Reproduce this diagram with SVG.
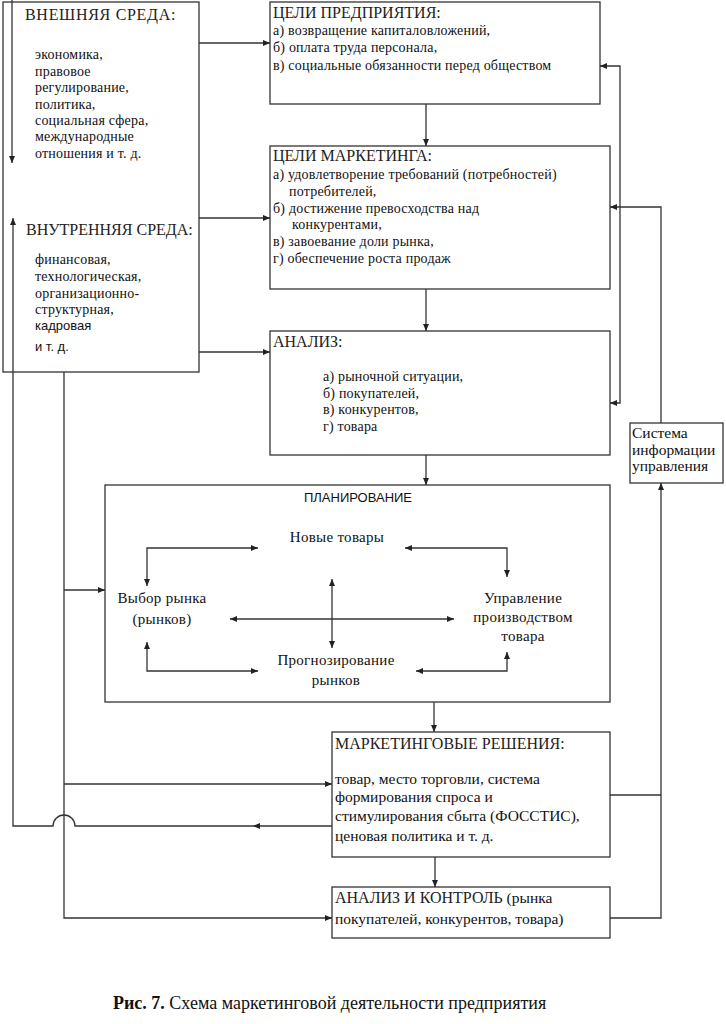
<svg xmlns="http://www.w3.org/2000/svg" width="726" height="1024" viewBox="0 0 726 1024">
<style>
.box{fill:#fff;stroke:#333;stroke-width:1.3}
.ln{fill:none;stroke:#333;stroke-width:1.3}
.h{font-family:"Liberation Serif",serif;font-size:16px;fill:#222}
.t{font-family:"Liberation Serif",serif;font-size:14px;letter-spacing:0.2px;fill:#111}
.b{font-family:"Liberation Serif",serif;font-size:15.5px;fill:#111}
.p{font-family:"Liberation Serif",serif;font-size:15px;letter-spacing:0.3px;fill:#111}
.s{font-family:"Liberation Sans",Arial,sans-serif;font-size:13px;fill:#111}
.c{text-anchor:middle}
</style>
<defs>
<marker id="ar" markerUnits="userSpaceOnUse" markerWidth="7" markerHeight="6" refX="7" refY="3" orient="auto-start-reverse">
<path d="M0,0 L7,3 L0,6 z" fill="#222"/>
</marker>
</defs>
<rect width="726" height="1024" fill="#fff"/>

<g id="environment">
<rect class="box" x="3" y="2" width="196" height="370"/>
<text class="h" x="25" y="20" letter-spacing="0.7">ВНЕШНЯЯ СРЕДА:</text>
<text class="t" x="35" y="59">экономика,</text>
<text class="t" x="35" y="76">правовое</text>
<text class="t" x="35" y="92">регулирование,</text>
<text class="t" x="35" y="109">политика,</text>
<text class="t" x="35" y="125">социальная сфера,</text>
<text class="t" x="35" y="141">международные</text>
<text class="t" x="35" y="158">отношения и  т. д.</text>
<text class="h" x="26" y="235">ВНУТРЕННЯЯ СРЕДА:</text>
<text class="t" x="35" y="264">финансовая,</text>
<text class="t" x="35" y="281">технологическая,</text>
<text class="t" x="35" y="298">организационно-</text>
<text class="t" x="35" y="314">структурная,</text>
<text class="s" x="35" y="330">кадровая</text>
<text class="s" x="35" y="351">и т. д.</text>
</g>

<g id="enterprise-goals">
<rect class="box" x="270" y="2" width="330" height="102"/>
<text class="h" x="273" y="18">ЦЕЛИ ПРЕДПРИЯТИЯ:</text>
<text class="t" x="273" y="35">а) возвращение капиталовложений,</text>
<text class="t" x="273" y="52">б) оплата труда персонала,</text>
<text class="t" x="273" y="70">в) социальные обязанности перед обществом</text>
</g>

<g id="marketing-goals">
<rect class="box" x="270" y="146" width="340" height="143"/>
<text class="h" x="273" y="161">ЦЕЛИ МАРКЕТИНГА:</text>
<text class="t" x="273" y="179">а) удовлетворение требований (потребностей)</text>
<text class="t" x="289" y="196">потребителей,</text>
<text class="t" x="273" y="213">б)  достижение превосходства над</text>
<text class="t" x="292" y="229">конкурентами,</text>
<text class="t" x="273" y="246">в) завоевание доли рынка,</text>
<text class="t" x="273" y="263">г)  обеспечение роста продаж</text>
</g>

<g id="analysis">
<rect class="box" x="270" y="331" width="340" height="124"/>
<text class="h" x="273" y="347">АНАЛИЗ:</text>
<text class="t" x="323" y="381">а) рыночной ситуации,</text>
<text class="t" x="323" y="398">б) покупателей,</text>
<text class="t" x="323" y="414">в) конкурентов,</text>
<text class="t" x="323" y="431">г) товара</text>
</g>

<g id="mis">
<rect class="box" x="630" y="423" width="93" height="60"/>
<text class="b" x="632" y="438">Система</text>
<text class="b" x="632" y="455">информации</text>
<text class="b" x="632" y="471">управления</text>
</g>

<g id="planning">
<rect class="box" x="105" y="485" width="505" height="217"/>
<text class="s c" x="358" y="502">ПЛАНИРОВАНИЕ</text>
</g>
<g id="new-products"><text class="p c" x="337" y="542">Новые товары</text></g>
<g id="market-choice">
<text class="p c" x="162" y="603">Выбор рынка</text>
<text class="p c" x="162" y="624">(рынков)</text>
</g>
<g id="production-management">
<text class="p c" x="523" y="603">Управление</text>
<text class="p c" x="523" y="622">производством</text>
<text class="p c" x="523" y="641">товара</text>
</g>
<g id="forecasting">
<text class="p c" x="336" y="665">Прогнозирование</text>
<text class="p c" x="336" y="685">рынков</text>
</g>

<g id="decisions">
<rect class="box" x="332" y="732" width="278" height="125"/>
<text class="h" x="335" y="749">МАРКЕТИНГОВЫЕ РЕШЕНИЯ:</text>
<text class="b" x="335" y="784">товар, место торговли, система</text>
<text class="b" x="335" y="802">формирования спроса и</text>
<text class="b" x="335" y="821">стимулирования сбыта (ФОССТИС),</text>
<text class="b" x="335" y="841">ценовая политика и т. д.</text>
</g>

<g id="control">
<rect class="box" x="332" y="887" width="278" height="51"/>
<text class="b" x="335" y="903"><tspan class="h">АНАЛИЗ И КОНТРОЛЬ</tspan> (рынка</text>
<text class="b" x="335" y="924">покупателей, конкурентов, товара)</text>
</g>

<g id="connectors">
<path class="ln" d="M12,0 V163" marker-end="url(#ar)"/>
<path class="ln" d="M199,43 H270" marker-end="url(#ar)"/>
<path class="ln" d="M199,218 H270" marker-end="url(#ar)"/>
<path class="ln" d="M199,352 H270" marker-end="url(#ar)"/>
<path class="ln" d="M426,104 V146" marker-end="url(#ar)"/>
<path class="ln" d="M426,289 V331" marker-end="url(#ar)"/>
<path class="ln" d="M426,455 V485" marker-end="url(#ar)"/>
<path class="ln" d="M434,702 V732" marker-end="url(#ar)"/>
<path class="ln" d="M435,857 V887" marker-end="url(#ar)"/>
<path class="ln" d="M661,423 V207 H610" marker-end="url(#ar)"/>
<path class="ln" d="M620,207 V66 H600" marker-end="url(#ar)"/>
<path class="ln" d="M620,207 V403 H610" marker-end="url(#ar)"/>
<path class="ln" d="M610,918 H661 V483" marker-end="url(#ar)"/>
<path class="ln" d="M610,795 H661"/>
<path class="ln" d="M64,372 V918 H332" marker-end="url(#ar)"/>
<path class="ln" d="M64,590 H105" marker-end="url(#ar)"/>
<path class="ln" d="M64,784 H332" marker-end="url(#ar)"/>
<path class="ln" d="M332,826 H253" marker-end="url(#ar)"/>
<path class="ln" d="M253,826 H75 A11,11 0 0 0 53,826 H13 V218" marker-end="url(#ar)"/>
<path class="ln" d="M147,586 V548 H258" marker-start="url(#ar)" marker-end="url(#ar)"/>
<path class="ln" d="M405,548 H507 V577" marker-start="url(#ar)" marker-end="url(#ar)"/>
<path class="ln" d="M230,619 H454" marker-start="url(#ar)" marker-end="url(#ar)"/>
<path class="ln" d="M332,579 V648" marker-start="url(#ar)" marker-end="url(#ar)"/>
<path class="ln" d="M147,642 V671 H258" marker-start="url(#ar)" marker-end="url(#ar)"/>
<path class="ln" d="M416,671 H507 V652" marker-start="url(#ar)" marker-end="url(#ar)"/>
</g>

<g id="caption">
<text x="113" y="1009" style="font-family:'Liberation Serif',serif;font-size:18px;fill:#111"><tspan font-weight="bold">Рис. 7.</tspan> Схема маркетинговой деятельности предприятия</text>
</g>
</svg>
